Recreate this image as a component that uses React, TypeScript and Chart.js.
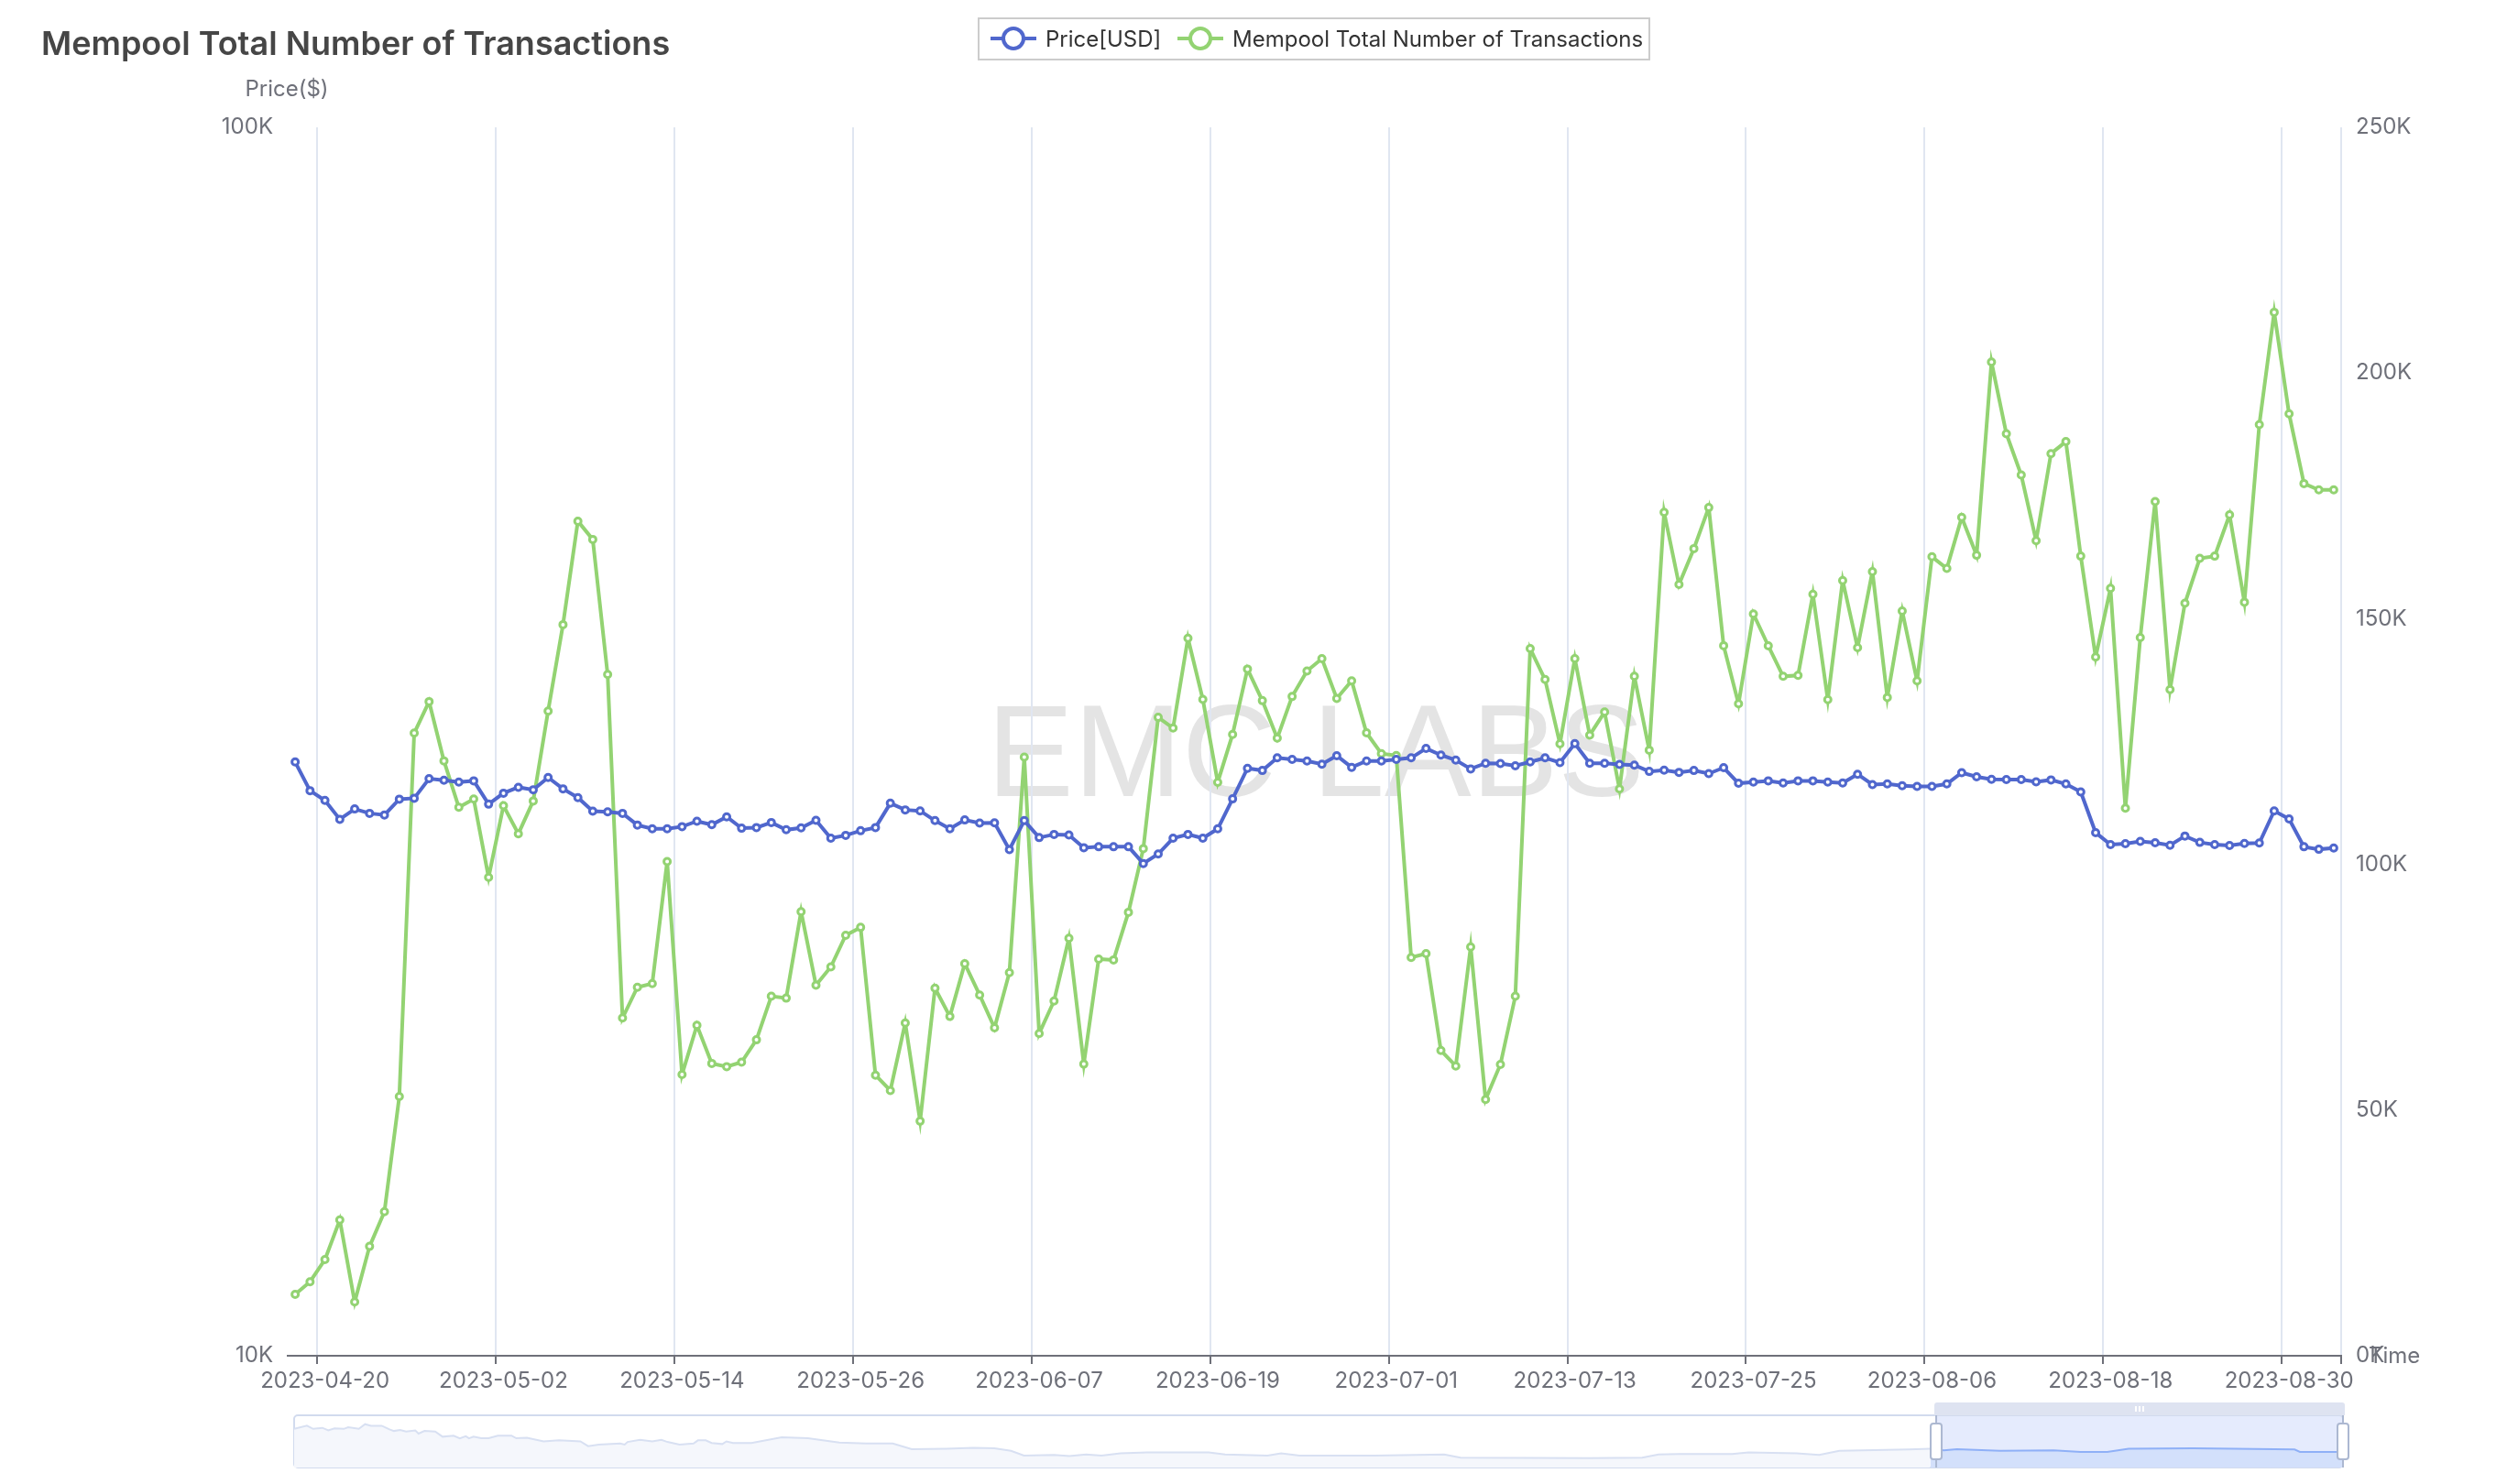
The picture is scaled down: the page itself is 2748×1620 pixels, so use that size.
import React, { useRef, useEffect } from 'react';
import { Chart, registerables } from 'chart.js';

Chart.register(...registerables);

const CHART_TITLE = 'Mempool Total Number of Transactions';
const PRICE_LABEL = 'Price[USD]';
const MEMPOOL_LABEL = 'Mempool Total Number of Transactions';
const WATERMARK = 'EMC LABS';
const FONT = 'Inter, "Noto Sans", sans-serif';

const BLUE = '#5067CD';
const GREEN = '#93D372';
const AXIS_GREY = '#6E7079';

// one band per day, 2023-04-18 up to 2023-09-02
const dates: string[] = [];
for (let i = 0; i < 138; i++) {
  dates.push(new Date(Date.UTC(2023, 3, 18 + i)).toISOString().slice(0, 10));
}

const xTickLabels = [
  '2023-04-20', '2023-05-02', '2023-05-14', '2023-05-26', '2023-06-07', '2023-06-19',
  '2023-07-01', '2023-07-13', '2023-07-25', '2023-08-06', '2023-08-18', '2023-08-30',
];
const priceTicks = [10000, 100000];

const priceUsd = [
  30435, 28841, 28320, 27333, 27868, 27640, 27558, 28385, 28435, 29496,
  29411, 29309, 29377, 28120, 28705, 29025, 28890, 29565, 28940, 28470,
  27754, 27722, 27640, 27041, 26850, 26850, 26961, 27235, 27057, 27460,
  26882, 26914, 27170, 26802, 26898, 27283, 26381, 26524, 26755, 26914,
  28170, 27819, 27770, 27267, 26850, 27300, 27139, 27155, 25825, 27267,
  26413, 26570, 26540, 25916, 25962, 25962, 25962, 25158, 25611, 26381,
  26570, 26381, 26850, 28400, 30076, 29953, 30670, 30579, 30489, 30310,
  30796, 30130, 30489, 30489, 30579, 30670, 31215, 30832, 30543, 30040,
  30363, 30345, 30220, 30435, 30670, 30399, 31497, 30363, 30363, 30291,
  30255, 29900, 29970, 29848, 29953, 29777, 30112, 29242, 29309, 29377,
  29258, 29377, 29377, 29309, 29258, 29742, 29173, 29207, 29105, 29071,
  29071, 29207, 29830, 29600, 29462, 29445, 29445, 29326, 29428, 29207,
  28775, 26660, 26065, 26110, 26222, 26160, 26035, 26490, 26175, 26065,
  26020, 26128, 26144, 27770, 27350, 25962, 25840, 25901,
];

const mempoolTx = [
  12490, 15060, 19560, 27650, 10940, 22260, 29300, 52760, 126720, 133130,
  121060, 111610, 113300, 97370, 111950, 106230, 112900, 131210, 148790, 169850,
  166130, 138650, 68740, 75000, 75750, 100580, 57230, 67250, 59490, 58840,
  59750, 64300, 73160, 72780, 90380, 75410, 79140, 85570, 87180, 57100,
  53970, 67710, 47750, 74800, 69050, 79790, 73420, 66740, 77990, 121830,
  65590, 72200, 84980, 59360, 80740, 80560, 90250, 103210, 129920, 127740,
  146030, 133580, 116710, 126460, 139750, 133320, 125690, 134160, 139360, 141860,
  133770, 137360, 126770, 122540, 122150, 81060, 81840, 62120, 58970, 83190,
  52160, 59290, 73160, 143920, 137620, 124540, 141870, 126320, 131000, 115340,
  138270, 123250, 171650, 156960, 164260, 172610, 144500, 132680, 150970, 144480,
  138270, 138460, 154960, 133520, 157780, 144110, 159590, 133970, 151550, 137360,
  162600, 160220, 170620, 162920, 202220, 187640, 179240, 165870, 183600, 186040,
  162730, 142190, 156170, 111430, 146160, 173830, 135570, 153150, 162270, 162730,
  171140, 153360, 189510, 212360, 191690, 177500, 176210, 176210,
];

// overview strip under the chart: day number and height of the shadow line in percent
const overviewDay = [
  0, 4.3, 6.4, 9.5, 11.5, 13.6, 16.7, 18.2, 21.8, 23.9, 25.9, 29.5, 32.1, 33.6, 35.7, 37.7,
  40.8, 41.9, 43.9, 47.5, 50, 53.7, 55.8, 57.8, 58.9, 60.4, 63, 65.5, 68.6, 73.2, 74.8, 78.4,
  84, 89.2, 96.4, 99, 102.6, 109.8, 111.3, 112.3, 116.5, 120.6, 123.7, 125.7, 129.8, 134.5, 136,
  138.6, 140.6, 144.2, 145.6, 147.8, 154, 164.2, 173, 183.6, 192.6, 201.6, 208, 219.8, 228.7,
  235.8, 241.4, 245.8, 255.9, 261.1, 266.7, 271.9, 278.3, 287.3, 308, 313.5, 327.8, 332.4, 338.6,
  363.9, 387.3, 392.8, 436.1, 454, 459.5, 466.4, 484.3, 489.8, 506, 513.6, 520.4, 543.8, 551,
  555.6, 560, 574.5, 592.6, 601.6, 610.6, 617.8, 639.4, 673.7, 675.5, 688, 690,
];
const overviewLevel = [
  74, 80, 74, 76, 71, 75, 74, 77, 74, 83, 80, 80, 73, 70, 72, 69,
  71, 65, 70, 69, 59, 61, 56, 60, 56, 59, 56, 56, 61, 61, 56, 57,
  50, 52, 50, 41, 44, 46, 44, 49, 53, 50, 53, 49, 44, 46, 52,
  52, 47, 45, 50, 47, 47, 58, 56, 48, 46, 46, 35, 36, 37.5,
  37, 32, 23, 24, 22, 25, 23, 27, 29, 29, 25, 23, 27, 23,
  23, 25, 19, 18, 19, 25, 26, 26, 29, 27, 24, 32, 34.5, 36,
  33, 35, 32, 33, 30, 30, 36, 37, 34.5, 30, 30, 30,
];
const OVERVIEW_DAYS = 690;
const WINDOW_START_DAY = 553;

const overviewPoints = overviewDay.map((x, i) => ({ x, y: overviewLevel[i] }));

const isLabelled = (index: number) => xTickLabels.includes(dates[index]);

// grid lines and ticks sit on the band edges; index is undefined for the closing edge
const edgeColor = (color: string) => (ctx: any) =>
  ctx.index === undefined || isLabelled(ctx.index) ? color : 'rgba(0,0,0,0)';

const kLabel = (value: any) => `${Number(value) / 1000}K`;

const drawLegendItem = (ctx: any, label: string, color: string, lineX: number, textX: number) => {
  const y = 42;
  ctx.strokeStyle = color;
  ctx.lineWidth = 4;
  ctx.beginPath();
  ctx.moveTo(lineX, y);
  ctx.lineTo(lineX + 50, y);
  ctx.stroke();
  ctx.beginPath();
  ctx.arc(lineX + 25, y, 11, 0, Math.PI * 2);
  ctx.fillStyle = '#fff';
  ctx.fill();
  ctx.stroke();
  ctx.fillStyle = '#333';
  ctx.font = `24px ${FONT}`;
  ctx.fillText(label, textX, 51);
};

// text the library has no fitting slot for: title, legend box, axis names, watermark
const decorPlugin = {
  id: 'decor',
  beforeDraw(chart: any) {
    const { ctx } = chart;
    ctx.save();
    ctx.fillStyle = '#E4E4E4';
    ctx.font = '142px "Liberation Sans", sans-serif';
    ctx.textAlign = 'center';
    ctx.fillText(WATERMARK, 1436, 869);
    ctx.restore();
  },
  afterDraw(chart: any) {
    const { ctx } = chart;
    ctx.save();
    ctx.textAlign = 'left';
    ctx.fillStyle = '#464646';
    ctx.font = `600 36px ${FONT}`;
    ctx.fillText(CHART_TITLE, 45, 60);

    ctx.strokeStyle = '#CCCCCC';
    ctx.lineWidth = 2;
    ctx.strokeRect(1068, 20, 732, 45);
    drawLegendItem(ctx, PRICE_LABEL, BLUE, 1081, 1141);
    drawLegendItem(ctx, MEMPOOL_LABEL, GREEN, 1285, 1345);

    ctx.fillStyle = AXIS_GREY;
    ctx.font = `24px ${FONT}`;
    ctx.textAlign = 'center';
    ctx.fillText('Price($)', 313, 105);
    ctx.textAlign = 'left';
    ctx.fillText('Time', 2585, 1488);
    ctx.restore();
  },
};

// frame, selected window and handles of the overview strip
const overviewPlugin = {
  id: 'overviewFrame',
  beforeDatasetsDraw(chart: any) {
    const { ctx, chartArea: area, scales } = chart;
    const startX = scales.x.getPixelForValue(WINDOW_START_DAY);
    ctx.save();
    ctx.fillStyle = '#E5EBFD';
    ctx.fillRect(startX, area.top, area.right - startX, area.bottom - area.top);
    ctx.strokeStyle = '#D2DBEE';
    ctx.lineWidth = 2;
    ctx.beginPath();
    ctx.roundRect(area.left, area.top, area.right - area.left, area.bottom - area.top, 4);
    ctx.stroke();
    ctx.restore();
  },
  afterDatasetsDraw(chart: any) {
    const { ctx, chartArea: area, scales } = chart;
    const startX = scales.x.getPixelForValue(WINDOW_START_DAY);
    const endX = area.right;
    ctx.save();
    ctx.fillStyle = '#DEE3F1';
    ctx.beginPath();
    ctx.roundRect(startX - 2, area.top - 14, endX - startX + 4, 14, [3, 3, 0, 0]);
    ctx.fill();
    ctx.fillStyle = '#fff';
    const gripX = (startX + endX) / 2;
    [-5, -1, 3].forEach((dx) => ctx.fillRect(gripX + dx, area.top - 10, 2, 6));
    ctx.strokeStyle = '#ACB8D1';
    ctx.lineWidth = 2;
    [startX, endX].forEach((x) => {
      ctx.beginPath();
      ctx.moveTo(x, area.top);
      ctx.lineTo(x, area.bottom);
      ctx.stroke();
      ctx.beginPath();
      ctx.roundRect(x - 6, area.top + 9, 12, 39, 3);
      ctx.fillStyle = '#fff';
      ctx.fill();
      ctx.stroke();
    });
    ctx.restore();
  },
};

const App = () => {
  const canvasRef = useRef<any>(null);
  const overviewRef = useRef<any>(null);

  useEffect(() => {
    const tickFont = { family: FONT, size: 24 };

    const chart = new Chart(canvasRef.current.getContext('2d'), {
      type: 'line',
      data: {
        labels: dates,
        datasets: [
          {
            label: PRICE_LABEL,
            data: priceUsd,
            yAxisID: 'yPrice',
            borderColor: BLUE,
            borderWidth: 4,
            pointRadius: 3.5,
            pointBorderWidth: 3,
            pointBorderColor: BLUE,
            pointBackgroundColor: '#fff',
          },
          {
            label: MEMPOOL_LABEL,
            data: mempoolTx,
            yAxisID: 'yMempool',
            borderColor: GREEN,
            borderWidth: 4,
            pointRadius: 3.5,
            pointBorderWidth: 3,
            pointBorderColor: GREEN,
            pointBackgroundColor: '#fff',
          },
        ],
      },
      plugins: [decorPlugin],
      options: {
        responsive: false,
        animation: false,
        devicePixelRatio: 1,
        layout: { padding: { top: 139 } },
        plugins: { legend: { display: false }, title: { display: false }, tooltip: { enabled: false } },
        scales: {
          x: {
            type: 'category',
            offset: true,
            afterFit: (scale: any) => { scale.height = 140; },
            border: { color: AXIS_GREY, width: 2 },
            grid: {
              offset: true,
              lineWidth: 2,
              tickWidth: 2,
              tickLength: 9,
              color: edgeColor('#E0E6F1'),
              tickColor: edgeColor(AXIS_GREY),
            },
            ticks: {
              autoSkip: false,
              minRotation: 0,
              maxRotation: 0,
              padding: 4,
              color: AXIS_GREY,
              font: tickFont,
              callback: (_value: any, index: number) => (isLabelled(index) ? dates[index] : ''),
            },
          },
          yPrice: {
            type: 'logarithmic',
            position: 'left',
            min: 10000,
            max: 100000,
            afterFit: (scale: any) => { scale.width = 314; },
            afterBuildTicks: (scale: any) => { scale.ticks = priceTicks.map((value) => ({ value })); },
            border: { display: false },
            grid: { display: false, drawTicks: false },
            ticks: { padding: 16, color: AXIS_GREY, font: tickFont, callback: kLabel },
          },
          yMempool: {
            type: 'linear',
            position: 'right',
            min: 0,
            max: 250000,
            afterFit: (scale: any) => { scale.width = 193; },
            border: { display: false },
            grid: { display: false, drawTicks: false },
            ticks: { stepSize: 50000, padding: 16, color: AXIS_GREY, font: tickFont, callback: kLabel },
          },
        },
      },
    } as any);

    const overview = new Chart(overviewRef.current.getContext('2d'), {
      type: 'line',
      data: {
        datasets: [
          {
            data: overviewPoints.filter((p) => p.x >= 551),
            borderColor: '#8FB0F7',
            borderWidth: 2,
            pointRadius: 0,
            fill: 'origin',
            backgroundColor: '#D3E0FB',
          },
          {
            data: overviewPoints.filter((p) => p.x <= 551),
            borderColor: '#D8E0F2',
            borderWidth: 2,
            pointRadius: 0,
            fill: 'origin',
            backgroundColor: '#F5F7FC',
          },
        ],
      },
      plugins: [overviewPlugin],
      options: {
        responsive: false,
        animation: false,
        devicePixelRatio: 1,
        layout: { padding: { left: 21, right: 23, top: 25, bottom: 18 } },
        plugins: { legend: { display: false }, title: { display: false }, tooltip: { enabled: false } },
        scales: {
          x: { type: 'linear', display: false, min: 0, max: OVERVIEW_DAYS },
          y: { type: 'linear', display: false, min: 0, max: 100 },
        },
      },
    } as any);

    return () => {
      chart.destroy();
      overview.destroy();
    };
  }, []);

  return (
    <div style={{ position: 'absolute', left: 0, top: 0, width: 2748, height: 1620, background: '#fff' }}>
      <canvas ref={canvasRef} width={2748} height={1620} style={{ display: 'block', width: 2748, height: 1620 }} />
      <canvas
        ref={overviewRef}
        width={2280}
        height={100}
        style={{ position: 'absolute', left: 300, top: 1520, width: 2280, height: 100 }}
      />
    </div>
  );
};

export default App;
